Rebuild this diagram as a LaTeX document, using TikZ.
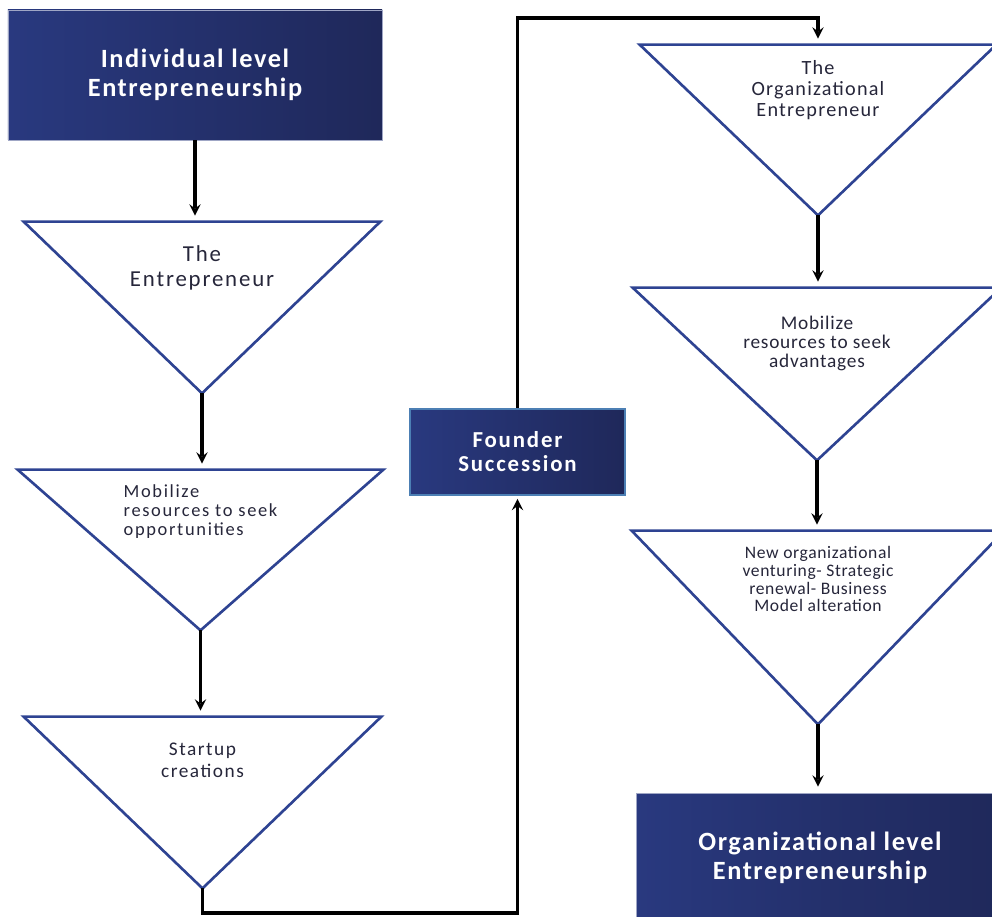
\documentclass[tikz,border=0pt]{standalone}
\usepackage{fontspec}
\setmainfont{Carlito}
\usepackage{tikz}
\usetikzlibrary{positioning}

\definecolor{navyL}{HTML}{29397F}
\definecolor{navyR}{HTML}{1F285A}
\definecolor{triline}{HTML}{2E4392}
\definecolor{txtdark}{HTML}{26263A}
\definecolor{founderedge}{HTML}{4C7FB4}

% spaced-out font for the labels
\newcommand{\spaced}[2]{\fontsize{#1}{#2}\selectfont}
\tikzset{
  levelbox/.style={rectangle, left color=navyL, right color=navyR, draw=navyL!45!white, line width=0.4pt, text=white, align=center, inner sep=0pt},
  tribox/.style={rectangle, inner sep=0pt},
  tritext/.style={text=txtdark, inner sep=0pt, align=center},
  tri/.style={draw=triline, line width=1.5pt, line join=miter},
  flow/.style={->, >=stealth, line width=1.8pt, shorten >=0.12cm},
}

\begin{document}
\begin{tikzpicture}
  \useasboundingbox (0,0) rectangle (19.84,18.32);

  % left column
  \node (indiv) [levelbox, minimum width=7.48cm, minimum height=2.6cm, font=\bfseries\spaced{15}{16.5}\addfontfeatures{LetterSpace=6}] at (3.9,16.82) {Individual level\\Entrepreneurship};
  \node (t1) [tribox, minimum width=7.12cm, minimum height=3.42cm] at (4.04,12.17) {};
  \node (t2) [tribox, minimum width=7.3cm, minimum height=3.2cm] at (4.01,7.32) {};
  \node (t3) [tribox, minimum width=7.14cm, minimum height=3.42cm] at (4.05,2.27) {};

  % middle
  \node (founder) [levelbox, draw=founderedge, line width=1.5pt, minimum width=4.3cm, minimum height=1.72cm, font=\bfseries\spaced{13}{13.7}\addfontfeatures{LetterSpace=8}] at (10.35,9.28) {Founder\\Succession};

  % right column
  \node (t4) [tribox, minimum width=7.12cm, minimum height=3.4cm] at (16.36,15.72) {};
  \node (t5) [tribox, minimum width=7.36cm, minimum height=3.44cm] at (16.34,10.84) {};
  \node (t6) [tribox, minimum width=7.44cm, minimum height=3.86cm] at (16.36,5.77) {};
  \node (orglevel) [levelbox, minimum width=7.36cm, minimum height=2.6cm, font=\bfseries\spaced{15}{16.5}\addfontfeatures{LetterSpace=6}] at (16.4,1.16) {Organizational level\\Entrepreneurship};

  % triangles
  \foreach \t in {t1,t2,t3,t4,t5,t6}
    \draw[tri] (\t.north west) -- (\t.north east) -- (\t.south) -- cycle;

  % texts inside the triangles
  \node (t1txt) [tritext, font=\spaced{13}{14.2}\addfontfeatures{LetterSpace=8}, below=0.47cm of t1.north] {The\\Entrepreneur};
  \node (t2txt) [tritext, align=left, font=\spaced{10.5}{10.8}\addfontfeatures{LetterSpace=9}, below=0.29cm of t2.north] {Mobilize\\resources to seek\\opportunities};
  \node (t3txt) [tritext, font=\spaced{11}{12.5}\addfontfeatures{LetterSpace=8}, below=0.52cm of t3.north] {Startup\\creations};
  \node (t4txt) [tritext, font=\spaced{11.5}{12}\addfontfeatures{LetterSpace=6}, below=0.31cm of t4.north] {The\\Organizational\\Entrepreneur};
  \node (t5txt) [tritext, font=\spaced{11}{10.8}\addfontfeatures{LetterSpace=4}, below=0.56cm of t5.north] {Mobilize\\resources to seek\\advantages};
  \node (t6txt) [tritext, font=\spaced{10}{10.2}\addfontfeatures{LetterSpace=3.5}, below=0.3cm of t6.north] {New organizational\\venturing- Strategic\\renewal- Business\\Model alteration};

  \coordinate (bendlow) at (4.05,0.06);
  \coordinate (bendtop) at (16.36,17.96);

  % connectors
  \draw[flow] (indiv.south) -- (indiv.south |- t1.north);
  \draw[flow] (t1.south) -- (t1.south |- t2.north);
  \draw[flow] (t2.south) -- (t2.south |- t3.north);
  \draw[flow, shorten >=0.05cm] (t3.south) -- (bendlow) -| (founder.south);
  \draw[flow] (founder.north) |- (bendtop) -- (t4.north);
  \draw[flow] (t4.south) -- (t4.south |- t5.north);
  \draw[flow] (t5.south) -- (t5.south |- t6.north);
  \draw[flow] (t6.south) -- (t6.south |- orglevel.north);
\end{tikzpicture}
\end{document}
